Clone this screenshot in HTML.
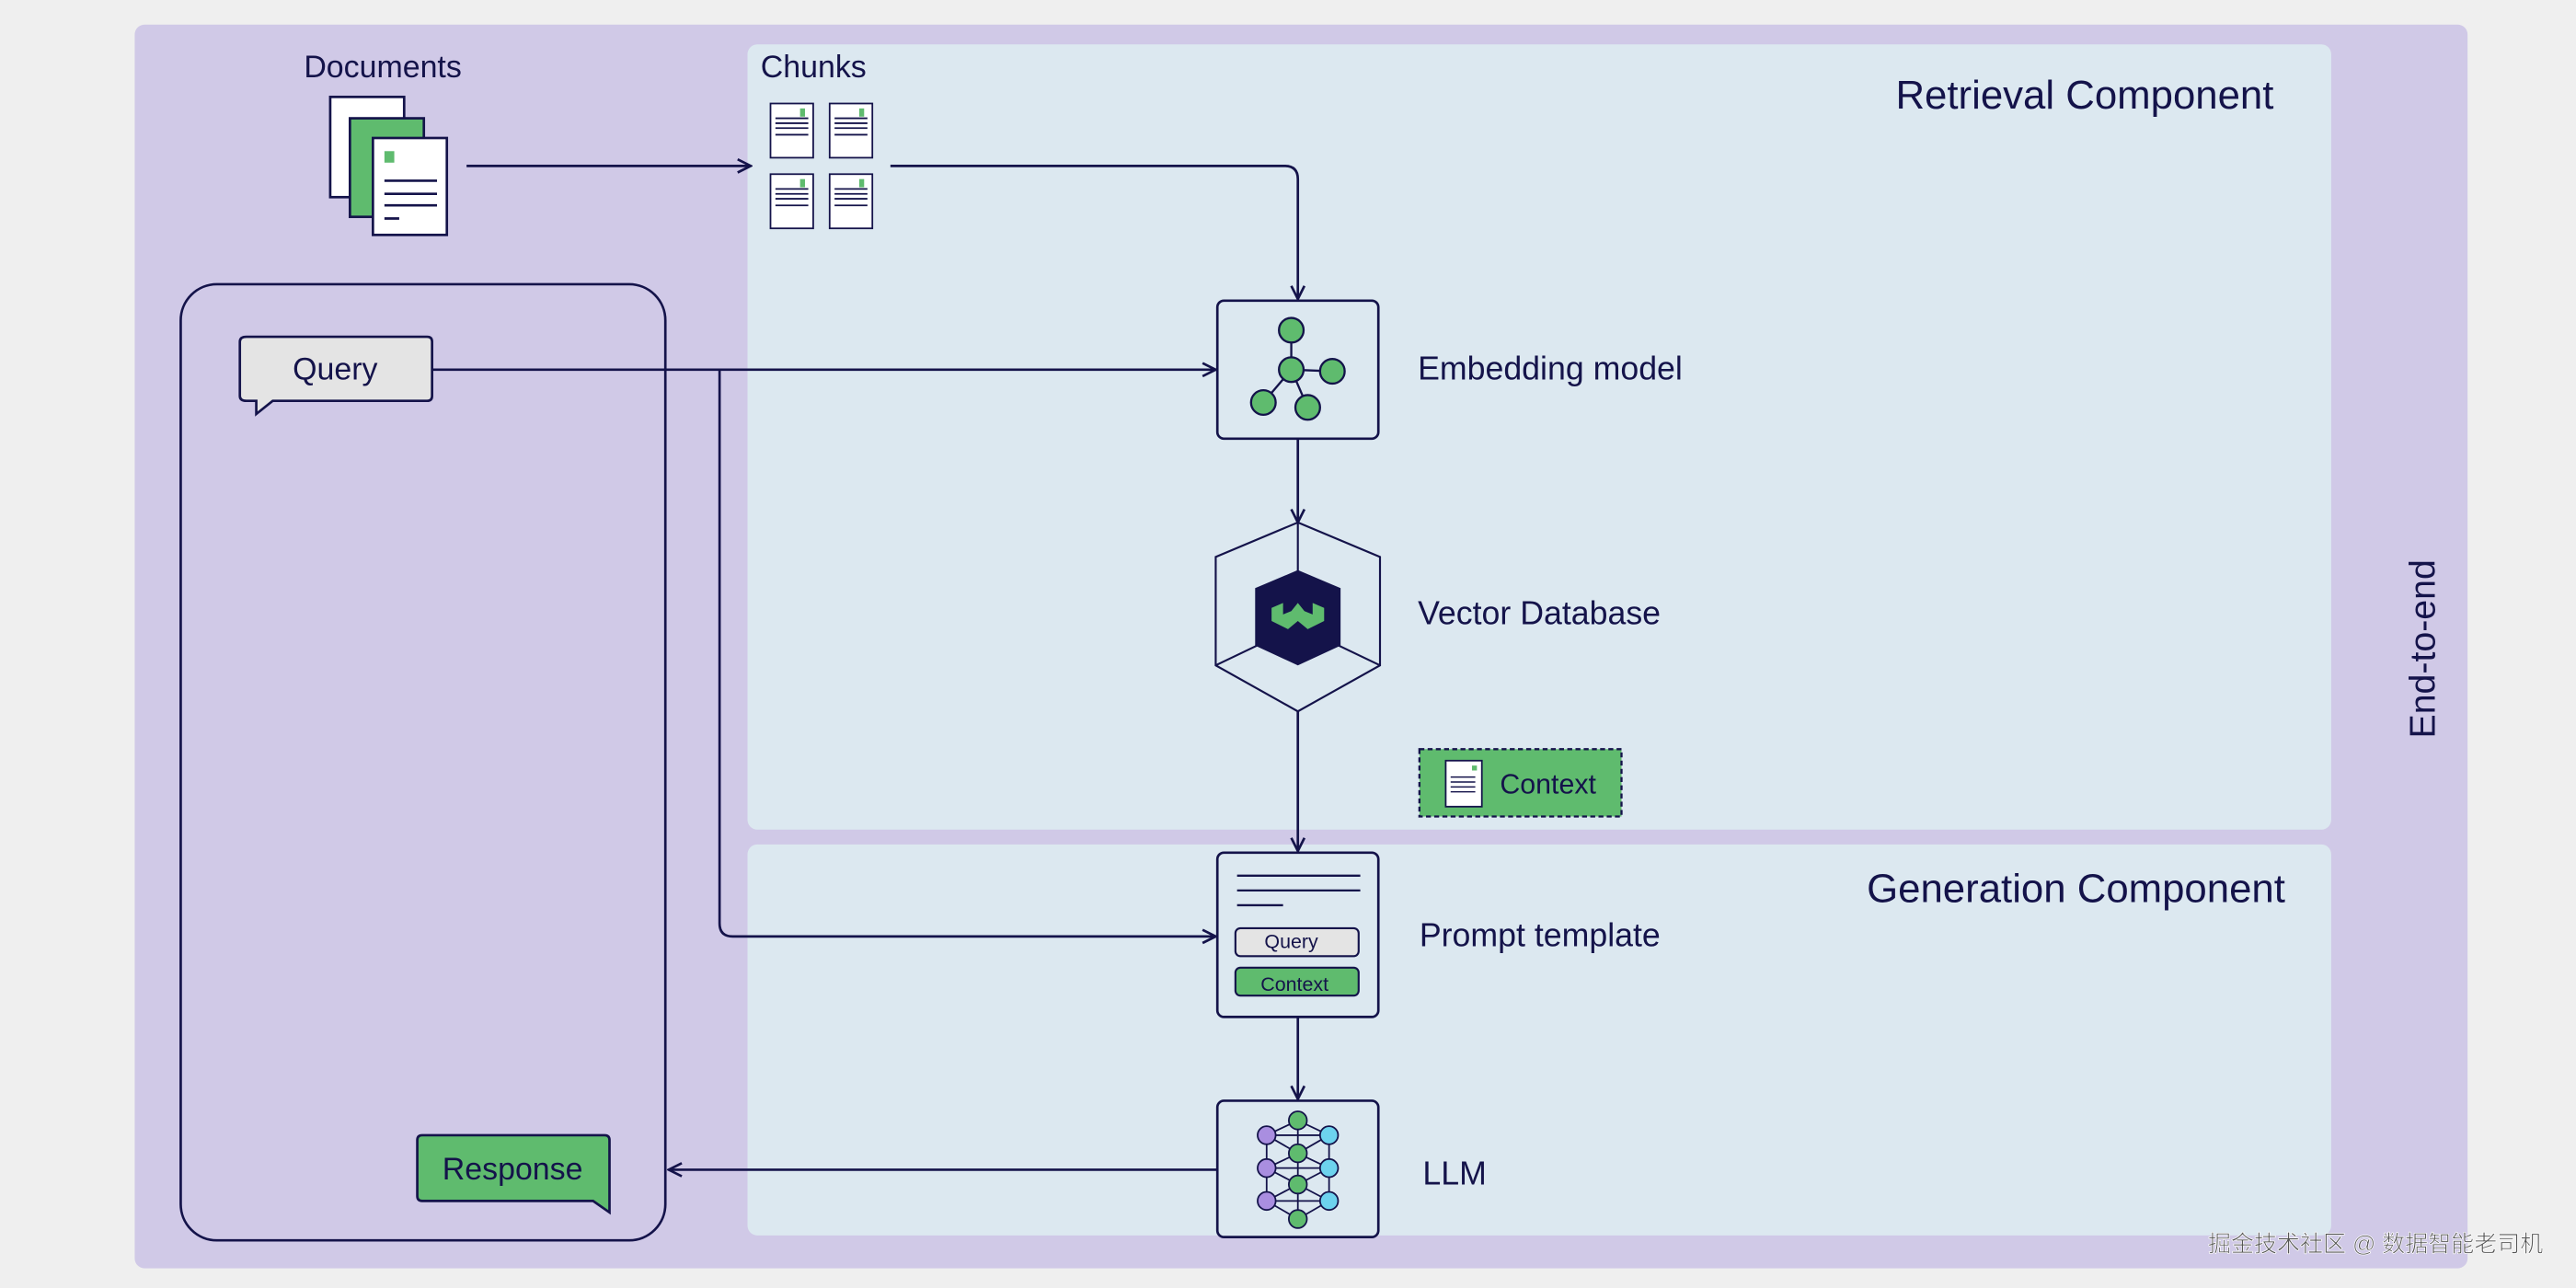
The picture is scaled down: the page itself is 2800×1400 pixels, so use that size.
<!DOCTYPE html>
<html><head><meta charset="utf-8"><style>
html,body{margin:0;padding:0;background:#efefef;}
svg{display:block;}
text{font-family:"Liberation Sans","Noto Sans CJK SC",sans-serif;fill:#14134a;}
</style></head><body>
<svg width="2800" height="1400" viewBox="0 0 1568 784" xmlns="http://www.w3.org/2000/svg">
<defs>
<marker id="ar" viewBox="0 0 10 10" refX="9" refY="5" markerWidth="10" markerHeight="10" markerUnits="userSpaceOnUse" orient="auto">
<path d="M1,1 L9,5 L1,9" fill="none" stroke="#14134a" stroke-width="1.5"/>
</marker>
</defs>
<rect x="0" y="0" width="1568" height="784" fill="#efefef"/>
<rect x="82" y="15" width="1420" height="757" rx="6" fill="#d0c9e7"/>
<rect x="455" y="27" width="964" height="478" rx="6" fill="#dce8f0"/>
<rect x="455" y="514" width="964" height="238" rx="6" fill="#dce8f0"/>
<rect x="110" y="173" width="295" height="582" rx="22" fill="none" stroke="#14134a" stroke-width="1.5"/>

<g stroke="#14134a" stroke-width="1.5" fill="none">
<line x1="284" y1="101" x2="457" y2="101" marker-end="url(#ar)"/>
<path d="M542,101 H782 Q790,101 790,109 V182" marker-end="url(#ar)"/>
<line x1="263" y1="225" x2="740" y2="225" marker-end="url(#ar)"/>
<path d="M438,225 V562 Q438,570 446,570 H740" marker-end="url(#ar)"/>
<line x1="790" y1="267" x2="790" y2="318" marker-end="url(#ar)"/>
<line x1="790" y1="433" x2="790" y2="518" marker-end="url(#ar)"/>
<line x1="790" y1="619" x2="790" y2="669" marker-end="url(#ar)"/>
<line x1="741" y1="712" x2="407" y2="712" marker-end="url(#ar)"/>
</g>

<!-- Documents -->
<text x="233" y="47" font-size="19" text-anchor="middle">Documents</text>
<g stroke="#14134a" stroke-width="1.5">
<rect x="201" y="59" width="45" height="61" fill="#fff"/>
<rect x="213" y="72" width="45" height="60" fill="#5fbb6e"/>
<rect x="227" y="84" width="45" height="59" fill="#fff"/>
<line x1="234" y1="110" x2="266" y2="110"/>
<line x1="234" y1="118" x2="266" y2="118"/>
<line x1="234" y1="125" x2="266" y2="125"/>
<line x1="234" y1="133" x2="243" y2="133"/>
</g>
<rect x="234" y="92" width="6" height="7" fill="#5fbb6e"/>

<!-- Chunks -->
<text x="463" y="47" font-size="19">Chunks</text>
<g stroke="#14134a" stroke-width="1">
<g id="ch"><rect x="469" y="63" width="26" height="33" fill="#fff"/>
<line x1="472" y1="72" x2="492" y2="72"/><line x1="472" y1="75" x2="492" y2="75"/><line x1="472" y1="78" x2="492" y2="78"/><line x1="472" y1="82" x2="492" y2="82"/></g>
<use href="#ch" x="36"/><use href="#ch" y="43"/><use href="#ch" x="36" y="43"/>
</g>
<g fill="#5fbb6e"><rect x="487" y="66" width="3" height="5"/><rect x="523" y="66" width="3" height="5"/><rect x="487" y="109" width="3" height="5"/><rect x="523" y="109" width="3" height="5"/></g>

<text x="1384" y="66" font-size="24.5" text-anchor="end">Retrieval Component</text>
<text x="1391" y="549" font-size="24.5" text-anchor="end">Generation Component</text>
<text transform="translate(1482,395) rotate(-90)" font-size="22" text-anchor="middle">End-to-end</text>

<!-- Query bubble -->
<path d="M150,205 H260 Q263,205 263,208 V241 Q263,244 260,244 H166 L156,252 V244 H150 Q146,244 146,241 V208 Q146,205 150,205 Z" fill="#e4e4e4" stroke="#14134a" stroke-width="1.5"/>
<text x="204" y="231" font-size="19" text-anchor="middle">Query</text>
<!-- Response bubble -->
<path d="M257,691 H368 Q371,691 371,694 V738 L361,731 H257 Q254,731 254,728 V694 Q254,691 257,691 Z" fill="#5fbb6e" stroke="#14134a" stroke-width="1.5"/>
<text x="312" y="718" font-size="19" text-anchor="middle">Response</text>

<!-- Embedding -->
<rect x="741" y="183" width="98" height="84" rx="4" fill="#dce8f0" stroke="#14134a" stroke-width="1.5"/>
<g stroke="#14134a" stroke-width="1.3">
<line x1="786" y1="201" x2="786" y2="225"/><line x1="786" y1="225" x2="811" y2="226"/><line x1="786" y1="225" x2="769" y2="245"/><line x1="786" y1="225" x2="796" y2="248"/>
<g fill="#5fbb6e"><circle cx="786" cy="201" r="7.5"/><circle cx="786" cy="225" r="7.5"/><circle cx="811" cy="226" r="7.5"/><circle cx="769" cy="245" r="7.5"/><circle cx="796" cy="248" r="7.5"/></g>
</g>
<text x="863" y="231" font-size="20">Embedding model</text>

<!-- Vector DB -->
<g stroke="#14134a" stroke-width="1.2" fill="none">
<polygon points="790,318 840,339 840,405 790,433 740,405 740,339" fill="#dce8f0"/>
<line x1="790" y1="318" x2="790" y2="348"/><line x1="740" y1="405" x2="765" y2="393"/><line x1="840" y1="405" x2="815" y2="393"/>
</g>
<polygon points="790,347 816,358 816,393 790,405 764,393 764,358" fill="#14134a"/>
<path d="M774,370 L781,367 V374 L786,372 L790,367 L794,372 L799,374 V367 L806,370 V378 L796,383 L790,378 L784,383 L774,378 Z" fill="#5fbb6e"/>
<text x="863" y="380" font-size="20">Vector Database</text>

<!-- Context -->
<rect x="864" y="456" width="123" height="41" fill="#5fbb6e" stroke="#14134a" stroke-width="1.3" stroke-dasharray="3,2"/>
<rect x="880" y="463" width="22" height="28" fill="#fff" stroke="#14134a" stroke-width="1"/>
<g stroke="#14134a" stroke-width="0.8"><line x1="883" y1="473" x2="898" y2="473"/><line x1="883" y1="476" x2="898" y2="476"/><line x1="883" y1="479" x2="898" y2="479"/><line x1="883" y1="482" x2="898" y2="482"/></g>
<rect x="896" y="466" width="3" height="3" fill="#5fbb6e"/>
<text x="913" y="483" font-size="17">Context</text>

<!-- Prompt template -->
<rect x="741" y="519" width="98" height="100" rx="4" fill="#dce8f0" stroke="#14134a" stroke-width="1.5"/>
<g stroke="#14134a" stroke-width="1.3"><line x1="753" y1="533" x2="828" y2="533"/><line x1="753" y1="542" x2="828" y2="542"/><line x1="753" y1="551" x2="781" y2="551"/></g>
<rect x="752" y="565" width="75" height="17" rx="3" fill="#e4e4e4" stroke="#14134a" stroke-width="1.2"/>
<rect x="752" y="589" width="75" height="17" rx="3" fill="#5fbb6e" stroke="#14134a" stroke-width="1.2"/>
<text x="786" y="577" font-size="12" text-anchor="middle">Query</text>
<text x="788" y="603" font-size="12" text-anchor="middle">Context</text>
<text x="864" y="576" font-size="20">Prompt template</text>

<!-- LLM -->
<rect x="741" y="670" width="98" height="83" rx="4" fill="#dce8f0" stroke="#14134a" stroke-width="1.5"/>
<g stroke="#14134a" stroke-width="1">
<line x1="771" y1="691" x2="771" y2="731"/><line x1="809" y1="691" x2="809" y2="731"/><line x1="790" y1="682" x2="790" y2="742"/>
<line x1="771" y1="691" x2="809" y2="691"/><line x1="771" y1="711" x2="809" y2="711"/><line x1="771" y1="731" x2="809" y2="731"/>
<polyline points="771,691 790,682 809,691" fill="none"/><polyline points="771,691 790,702 809,691" fill="none"/>
<polyline points="771,711 790,702 809,711" fill="none"/><polyline points="771,711 790,721 809,711" fill="none"/>
<polyline points="771,731 790,721 809,731" fill="none"/><polyline points="771,731 790,742 809,731" fill="none"/>
<g fill="#a98ee0"><circle cx="771" cy="691" r="5.5"/><circle cx="771" cy="711" r="5.5"/><circle cx="771" cy="731" r="5.5"/></g>
<g fill="#6dd3ee"><circle cx="809" cy="691" r="5.5"/><circle cx="809" cy="711" r="5.5"/><circle cx="809" cy="731" r="5.5"/></g>
<g fill="#5fbb6e"><circle cx="790" cy="682" r="5.5"/><circle cx="790" cy="702" r="5.5"/><circle cx="790" cy="721" r="5.5"/><circle cx="790" cy="742" r="5.5"/></g>
</g>
<text x="866" y="721" font-size="20">LLM</text>

<text x="1548" y="762" font-size="14" text-anchor="end" style="fill:#555555;stroke:#ffffff;stroke-width:0.4">掘金技术社区 @ 数据智能老司机</text>
</svg>
</body></html>
